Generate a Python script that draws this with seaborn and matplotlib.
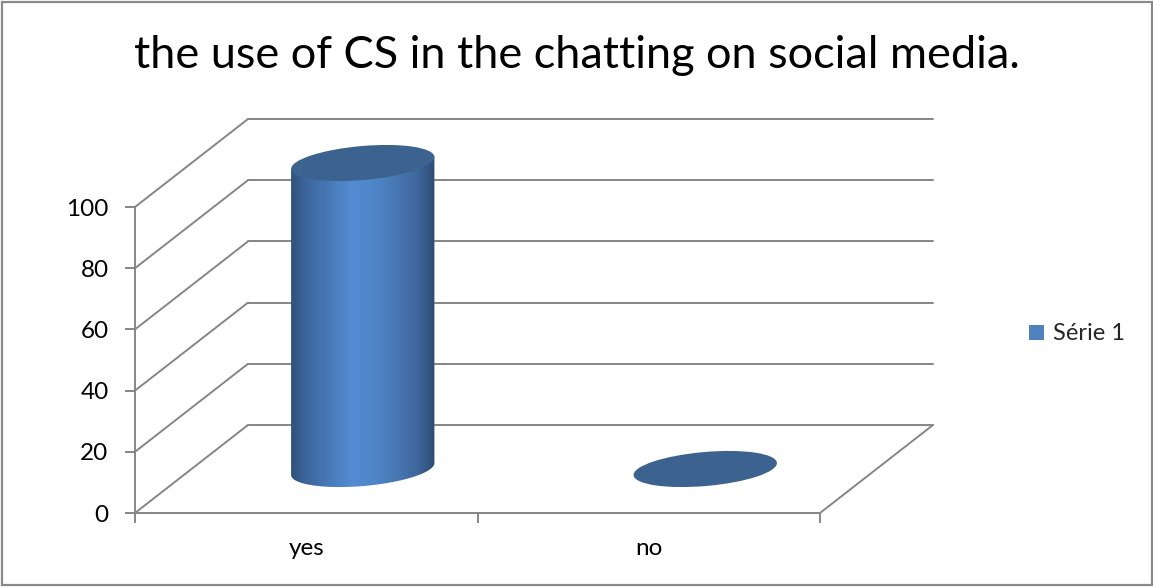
import numpy as np
import matplotlib
matplotlib.use('Agg')
import matplotlib.pyplot as plt
import seaborn as sns
from matplotlib.patches import Ellipse, Rectangle, Patch, PathPatch
from matplotlib.path import Path
from matplotlib.colors import LinearSegmentedColormap
import matplotlib.transforms as mtransforms

# ---- data ----
categories = ['yes', 'no']
values = [100, 0]
series_name = 'Série 1'
y_ticks = [0, 20, 40, 60, 80, 100]
title = 'the use of CS in the chatting on social media.'

W, H, DPI = 1153, 587, 100
sns.set_style('white')
plt.rcParams['font.family'] = ['Lato', 'DejaVu Sans']

GRID = '#868686'
fig = plt.figure(figsize=(W / DPI, H / DPI), dpi=DPI)
fig.patch.set_facecolor('white')
ax = fig.add_axes([135 / W, (H - 513) / H, (820 - 135) / W, (513 - 207) / H])
ax.patch.set_alpha(0)

sns.barplot(x=categories, y=values, color='#4F81BD', width=0.42, ax=ax, zorder=3)
n = len(categories)
ax.set_xlim(-0.5, n - 0.5)
ax.set_ylim(0, 100)

# 3D depth offset (inches)
depth = (1.13, 0.88)
mid = ax.transData + mtransforms.ScaledTranslation(depth[0] / 2, depth[1] / 2, fig.dpi_scale_trans)
px_x = ax.bbox.width / n
px_y = ax.bbox.height / 100
dx = depth[0] * DPI / px_x
dy = depth[1] * DPI / px_y

# back wall, side wall and floor lines
for v in y_ticks:
    ax.plot([-0.5 + dx, n - 0.5 + dx], [v + dy, v + dy], color=GRID, lw=1.4, clip_on=False, zorder=1)
    ax.plot([-0.5, -0.5 + dx], [v, v + dy], color=GRID, lw=1.4, clip_on=False, zorder=1)
ax.plot([n - 0.5, n - 0.5 + dx], [0, dy], color=GRID, lw=1.4, clip_on=False, zorder=1)

# cylinders
cmap = LinearSegmentedColormap.from_list('cyl', [(0, '#2B4A72'), (0.12, '#3B659B'), (0.42, '#538CD1'),
                                                 (0.6, '#4E85C7'), (0.86, '#3F689D'), (1, '#2A466C')])
grad = np.linspace(0, 1, 256).reshape(1, -1)
ell_h = 34 / DPI
angle = 5
th = np.deg2rad(angle)
bars = list(ax.patches)
for patch, val in zip(bars, values):
    patch.set_transform(mid)
    patch.set_facecolor('none')
    patch.set_edgecolor('none')
    patch.set_clip_on(False)
    x0, w = patch.get_x(), patch.get_width()
    xc = x0 + w / 2
    ell_w = w * px_x / DPI
    a, b = ell_w / 2, ell_h / 2
    local = fig.dpi_scale_trans + mtransforms.ScaledTranslation(xc, 0, mid)
    if val > 0:
        top_in = val * px_y / DPI
        t = np.linspace(np.pi, 2 * np.pi, 80)
        ex = a * np.cos(t) * np.cos(th) - b * np.sin(t) * np.sin(th)
        ey = a * np.cos(t) * np.sin(th) + b * np.sin(t) * np.cos(th)
        verts = [(ex[0], ey[0] + top_in)] + list(zip(ex, ey)) + [(ex[-1], ey[-1] + top_in), (ex[0], ey[0] + top_in)]
        codes = [Path.MOVETO] + [Path.LINETO] * (len(verts) - 2) + [Path.CLOSEPOLY]
        body = PathPatch(Path(verts, codes), facecolor='none', edgecolor='none', transform=local)
        ax.add_patch(body)
        body.set_clip_on(False)
        im = ax.imshow(grad, extent=(x0 - 0.01, x0 + w + 0.01, -20, val + 5), transform=mid, aspect='auto',
                       cmap=cmap, interpolation='bilinear', zorder=3)
        im.set_clip_path(body)
        im.set_clip_box(fig.bbox)
    et = Ellipse((0, 0), ell_w, ell_h, angle=angle, facecolor='#3C638F', edgecolor='none', zorder=5,
                 transform=fig.dpi_scale_trans + mtransforms.ScaledTranslation(xc, val, mid))
    et.set_clip_on(False)
    ax.add_patch(et)

ax.set_xlim(-0.5, n - 0.5)
ax.set_ylim(0, 100)

# axes styling
for s in ['top', 'right']:
    ax.spines[s].set_visible(False)
for s in ['left', 'bottom']:
    ax.spines[s].set_color(GRID)
    ax.spines[s].set_linewidth(1.4)
ax.set_yticks(y_ticks)
ax.set_yticklabels([str(t) for t in y_ticks])
ax.tick_params(axis='y', left=True, length=7, width=1.4, color=GRID, labelsize=17.5, pad=12, labelcolor='black')
ax.set_xticks([i - 0.5 for i in range(n + 1)])
ax.set_xticklabels([])
ax.set_xticks(list(range(n)), minor=True)
ax.set_xticklabels(categories, minor=True)
ax.tick_params(axis='x', which='major', bottom=True, length=7, width=1.4, color=GRID)
ax.tick_params(axis='x', which='minor', bottom=True, length=0, labelsize=17.5, pad=18, labelcolor='black')
ax.set_xlabel('')
ax.set_ylabel('')
ax.grid(False)

# title
fig.text(577 / W, 1 - 68 / H, title, ha='center', va='baseline', fontsize=32.5, color='black')

# legend
fig.legend(handles=[Patch(facecolor='#4F81BD', edgecolor='none', label=series_name)],
           loc='center left', bbox_to_anchor=(1029 / W, 1 - 334 / H), frameon=False, fontsize=17,
           handlelength=0.62, handleheight=0.62, handletextpad=0.4, borderpad=0, borderaxespad=0)

# outer border
fig.add_artist(Rectangle((1.5 / W, 2 / H), (W - 3) / W, (H - 4) / H, transform=fig.transFigure,
                         fill=False, edgecolor='#898989', lw=1.6))

fig.savefig('out.png', dpi=DPI)
